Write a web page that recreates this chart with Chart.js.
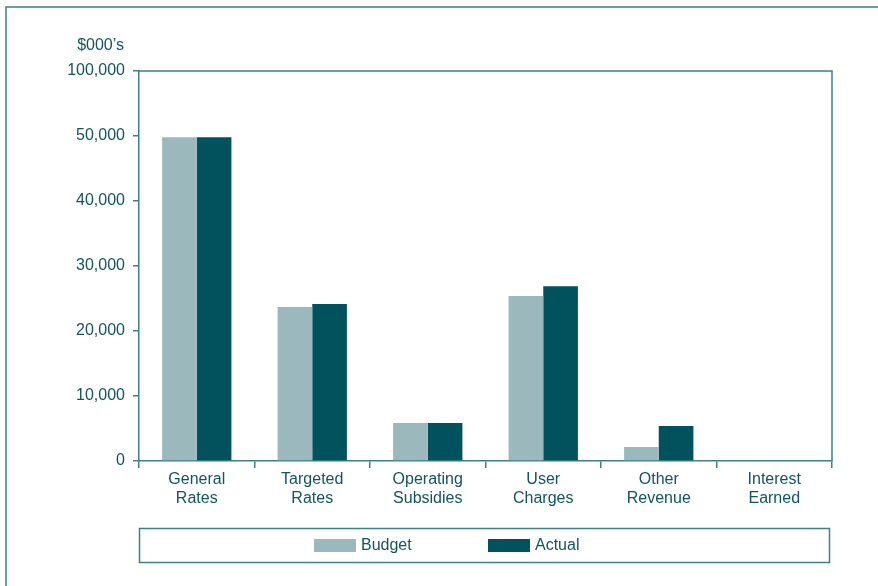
<!DOCTYPE html>
<html>
<head>
<meta charset="utf-8">
<script src="https://cdn.jsdelivr.net/npm/chart.js@4"></script>
<style>
  html, body { margin: 0; padding: 0; background: #fff; }
  #wrap { width: 878px; height: 586px; position: relative; }
</style>
</head>
<body>
<div id="wrap"><canvas id="myChart" width="878" height="586"></canvas></div>
<script>
const categories = [
  ['General', 'Rates'],
  ['Targeted', 'Rates'],
  ['Operating', 'Subsidies'],
  ['User', 'Charges'],
  ['Other', 'Revenue'],
  ['Interest', 'Earned']
];
const budget = [49800, 23700, 5850, 25400, 2150, 0];
const actual = [49800, 24150, 5850, 26900, 5400, 0];
// the axis is broken above 50,000: the top step is labelled 100,000
const tickLabels = ['0', '10,000', '20,000', '30,000', '40,000', '50,000', '100,000'];
const unitLabel = '$000\u2019s';

const TEXT = '#125460';
const LINE = '#3f7f88';
const FONT = '"Liberation Sans", Arial, Helvetica, sans-serif';

const framePlugin = {
  id: 'frame',
  afterDraw(chart) {
    const ctx = chart.ctx;
    const a = chart.chartArea;
    ctx.save();
    // outer frame (top + left edges)
    ctx.strokeStyle = LINE;
    ctx.lineWidth = 1.5;
    ctx.beginPath();
    ctx.moveTo(6, 586);
    ctx.lineTo(6, 7);
    ctx.lineTo(878, 7);
    ctx.stroke();
    // plot box top + right
    ctx.beginPath();
    ctx.moveTo(a.left, a.top);
    ctx.lineTo(a.right, a.top);
    ctx.lineTo(a.right, a.bottom);
    ctx.stroke();
    // unit label
    ctx.fillStyle = TEXT;
    ctx.font = '16px ' + FONT;
    ctx.textAlign = 'right';
    ctx.textBaseline = 'middle';
    ctx.fillText(unitLabel, 124, 46);
    // legend box
    ctx.strokeRect(139.5, 528.5, 690, 34);
    const items = [[314, 361], [488, 535]];
    chart.data.datasets.forEach((ds, i) => {
      ctx.fillStyle = ds.backgroundColor;
      ctx.fillRect(items[i][0], 539, 42, 13);
      ctx.fillStyle = TEXT;
      ctx.textAlign = 'left';
      ctx.fillText(ds.label, items[i][1], 546);
    });
    ctx.restore();
  }
};

let ctx = document.querySelector('#myChart').getContext('2d');
let myChart = new Chart(ctx, {
  type: 'bar',
  data: {
    labels: categories,
    datasets: [
      { label: 'Budget', data: budget, backgroundColor: '#9bb9bd' },
      { label: 'Actual', data: actual, backgroundColor: '#02525e' }
    ]
  },
  options: {
    responsive: false,
    animation: false,
    categoryPercentage: 0.6,
    barPercentage: 1.0,
    layout: { padding: { top: 71, right: 46, left: 0, bottom: 0 } },
    plugins: {
      legend: { display: false },
      tooltip: { enabled: false }
    },
    scales: {
      x: {
        afterFit: (s) => { s.height = 125; },
        grid: { drawOnChartArea: false, drawTicks: true, tickLength: 7, color: LINE, lineWidth: 1.5 },
        border: { display: true, color: LINE, width: 1.5 },
        ticks: { color: TEXT, font: { family: FONT, size: 16, lineHeight: 1.2 }, padding: 2, maxRotation: 0 }
      },
      y: {
        min: 0,
        max: 60000,
        afterFit: (s) => { s.width = 139; },
        grid: { drawOnChartArea: false, drawTicks: true, tickLength: 6, color: LINE, lineWidth: 1.5 },
        border: { display: true, color: LINE, width: 1.5 },
        ticks: {
          stepSize: 10000,
          color: TEXT,
          font: { family: FONT, size: 16 },
          padding: 8,
          callback: (v, i) => tickLabels[i]
        }
      }
    }
  },
  plugins: [framePlugin]
});
</script>
</body>
</html>
